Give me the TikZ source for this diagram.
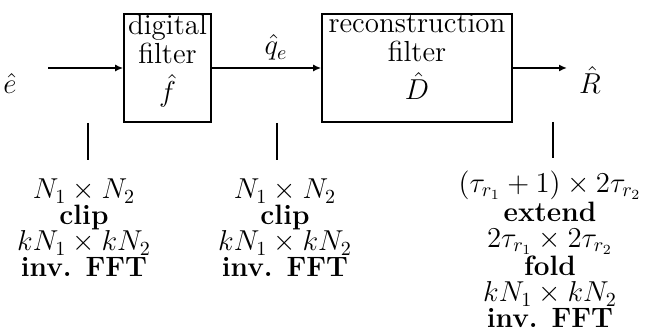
\documentclass[tikz,border=0pt]{standalone}
\usepackage{amsmath}
\usepackage{tikz}
\usetikzlibrary{positioning, arrows.meta}

\tikzset{
  blk/.style={draw, line width=0.8pt, inner sep=0pt, minimum height=54pt},
  blklbl/.style={align=center, inner sep=0pt, font=\fontsize{14.5}{14.5}\selectfont},
  sizes/.style={align=center, inner sep=0pt, font=\fontsize{14}{13}\selectfont},
  sig/.style={-{Latex[length=4pt,width=3.5pt]}, line width=0.8pt},
  tick/.style={line width=0.6pt},
}

\begin{document}
\begin{tikzpicture}[x=0.5pt,y=-0.5pt]
\useasboundingbox (0,0) rectangle (660,335);
% the two filters
\node[blk, minimum width=43.5pt] (dfilt) at (167.5,68) {};
\node[blk, minimum width=95pt] (rfilt) at (417,68) {};
\node[blklbl, anchor=base] (dfiltlbl) at (167.5,102) {digital\\filter\\[4.5pt]$\hat{f}$};
\node[blklbl, anchor=base] (rfiltlbl) at (417,100) {reconstruction\\filter\\[4.5pt]$\hat{D}$};
% signals
\coordinate (ein) at (48,68);
\coordinate (rout) at (567,68);
\node[font=\fontsize{14}{14}\selectfont, anchor=base] (ehat) at (10,94) {$\hat{e}$};
\node[font=\fontsize{14}{14}\selectfont, anchor=base] (qhat) at (276,55) {$\hat{q}_e$};
\node[font=\fontsize{14}{14}\selectfont, anchor=base] (Rhat) at (590,94) {$\hat{R}$};
\draw[sig] (ein) -- (dfilt);
\draw[sig] (dfilt) -- (rfilt);
\draw[sig] (rfilt) -- (rout);
% ticks
\coordinate (t1a) at (88,123);  \coordinate (t1b) at (88,160);
\coordinate (t2a) at (277,123); \coordinate (t2b) at (277,160);
\coordinate (t3a) at (553,122); \coordinate (t3b) at (553,158);
\draw[tick] (t1a) -- (t1b);
\draw[tick] (t2a) -- (t2b);
\draw[tick] (t3a) -- (t3b);
% array sizes (base = last line)
\node[sizes, anchor=base] (sz1) at (84,277)
  {$N_1 \times N_2$\\\textbf{clip}\\$kN_1 \times kN_2$\\\textbf{inv. FFT}};
\node[sizes, anchor=base] (sz2) at (285,277)
  {$N_1 \times N_2$\\\textbf{clip}\\$kN_1 \times kN_2$\\\textbf{inv. FFT}};
\node[sizes, anchor=base] (sz3) at (550,328)
  {$(\tau_{r_1}+1) \times 2\tau_{r_2}$\\\textbf{extend}\\$2\tau_{r_1} \times 2\tau_{r_2}$\\\textbf{fold}\\$kN_1 \times kN_2$\\\textbf{inv. FFT}};
\end{tikzpicture}
\end{document}
